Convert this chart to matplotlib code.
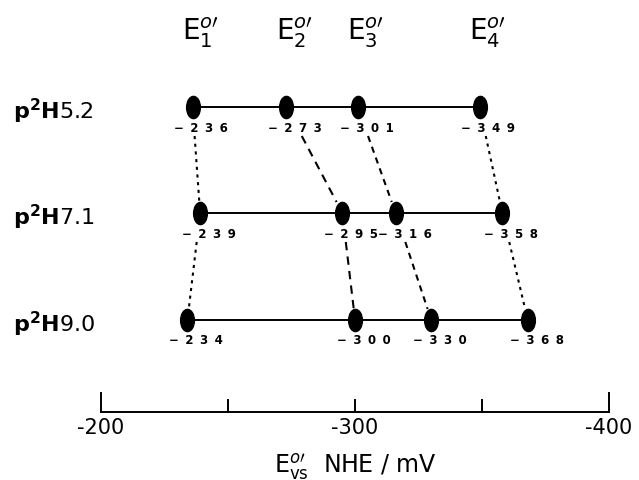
import matplotlib.pyplot as plt
from matplotlib.path import Path
from matplotlib.transforms import Affine2D

# E0' values (mV vs NHE), one list per p2H row
ph_values = ["5.2", "7.1", "9.0"]
e_ph52 = [-236, -273, -301, -349]
e_ph71 = [-239, -295, -316, -358]
e_ph90 = [-234, -300, -330, -368]
potentials = [e_ph52, e_ph71, e_ph90]
e_names = ["1", "2", "3", "4"]

scale_ticks = [-200, -250, -300, -350, -400]
scale_labels = ["-200", "", "-300", "", "-400"]

# layout (y in pixel units, top = 0)
ROW_Y = [107, 213, 320]
SCALE_Y = 412
LW = 1.4

plt.rcParams['font.family'] = ['DejaVu Sans']
plt.rcParams['mathtext.fontset'] = 'dejavusans'

fig = plt.figure(figsize=(6.39, 4.8), dpi=100)
ax = fig.add_axes([0, 0, 1, 1])
ax.set_xlim(-160.2, -411.8)
ax.set_ylim(480, 0)
ax.axis('off')

oval = Path.unit_circle().transformed(Affine2D().scale(0.62, 1.0))

for row, (vals, y) in enumerate(zip(potentials, ROW_Y)):
    ax.plot([vals[0], vals[-1]], [y, y], color='black', lw=LW, zorder=2)
    ax.plot(vals, [y] * len(vals), linestyle='none', marker=oval,
            markersize=16, color='black', zorder=3)
    for v in vals:
        ax.text(v - 3.5, y + 21, " \u2009".join("\u2212" + str(abs(v))),
                fontsize=8.5, fontweight='bold', ha='center', va='center')
    ax.text(0.02, y + 4, r"$\mathbf{p^2H}$" + ph_values[row], fontsize=16,
            ha='left', va='center', transform=ax.get_yaxis_transform())

# dashed connectors between rows
styles = [(0, (1.5, 2.2)), (0, (4, 3)), (0, (3, 2.5)), (0, (1.5, 2.2))]
for r in range(len(potentials) - 1):
    y0, y1 = ROW_Y[r], ROW_Y[r + 1]
    ya, yb = y0 + 29, y1 - 11
    for c in range(len(e_names)):
        x0, x1 = potentials[r][c], potentials[r + 1][c]
        xa = x0 + (x1 - x0) * (ya - y0) / (y1 - y0)
        xb = x0 + (x1 - x0) * (yb - y0) / (y1 - y0)
        ax.plot([xa, xb], [ya, yb], color='black', lw=1.5,
                linestyle=styles[c])

# column headers E1o' .. E4o'
for c, name in enumerate(e_names):
    ax.text(e_ph52[c] - 3, 33, r"E$_{%s}^{o\prime}$" % name, fontsize=20,
            ha='center', va='center')

# potential scale
ax.plot([scale_ticks[0], scale_ticks[-1]], [SCALE_Y, SCALE_Y],
        color='black', lw=LW)
for t, lab in zip(scale_ticks, scale_labels):
    top = SCALE_Y - (19 if t in (scale_ticks[0], scale_ticks[-1]) else 12)
    ax.plot([t, t], [SCALE_Y, top], color='black', lw=LW)
    if lab:
        ax.text(t, 428, lab, fontsize=15, ha='center', va='center')

ax.text(-300, 466, r"E$_{\mathregular{vs}}^{o\prime}$  NHE / mV", fontsize=17,
        ha='center', va='center')

fig.savefig("out.png", dpi=100)
